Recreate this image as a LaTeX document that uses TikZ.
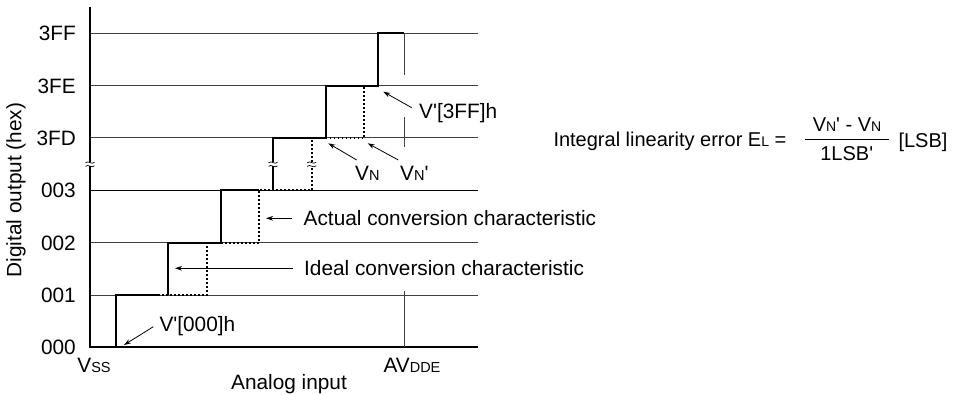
\documentclass[tikz,border=0pt]{standalone}
\usepackage{fontspec}
\setmainfont{Liberation Sans}
\usetikzlibrary{arrows.meta}
\newcommand\smc[1]{{\fontsize{14.5}{15}\selectfont #1}}
\newcommand\qq{\textquotesingle}
\tikzset{
  gridline/.style={line width=0.8pt, black!75},
  axisline/.style={line width=1.1pt, black},
  ideal/.style={line width=2pt, black},
  actual/.style={line width=1.9pt, black, dash pattern=on 1.9pt off 2.1pt},
  ptr/.style={line width=0.8pt, black, -{Stealth[length=7pt,width=4.6pt]}},
  lbl/.style={inner sep=0pt, anchor=base west},
  tick/.style={inner sep=0pt, anchor=base east},
  ctr/.style={inner sep=0pt, anchor=base},
  formfont/.style={font=\fontsize{20}{24}\selectfont},
  brk/.pic={
    \fill[white] (-5,-2.3) rectangle (5,2.3);
    \draw[line width=0.7pt] (-4.5,-1.2) .. controls (-1.5,-4.2) and (1.5,1.4) .. (4.5,-1.8);
    \draw[line width=0.7pt] (-4.5,2.4) .. controls (-1.5,-0.6) and (1.5,5.0) .. (4.5,1.8);
  }
}
\begin{document}
\begin{tikzpicture}[x=1pt,y=-1pt,font=\fontsize{20.8}{24}\selectfont]
\useasboundingbox (0,0) rectangle (955,394);
% grid lines
\foreach \yy in {33,85.7,137.7,242.7,295}{
  \draw[gridline] (90,\yy) -- (478,\yy);
}
\draw[line width=0.9pt] (90,190.3) -- (478,190.3);
% axes
\coordinate (ytop) at (90,7);
\coordinate (orig) at (90,347);
\coordinate (xend) at (478,347);
\draw[axisline] (ytop) -- (orig) -- (xend);
% AVDDE marker line and 3FF end line
\draw[gridline] (404,291) -- (404,347);
\draw[gridline] (404,33) -- (404,75);
\draw[gridline] (404,117.3) -- (404,146.7);
% ideal (solid) staircase
\draw[ideal] (116,347) -- (116,295) -- (158,295);
\draw[ideal] (168.3,295) -- (168.3,242.7) -- (220.7,242.7) -- (220.7,190.3) -- (259.3,190.3);
\draw[ideal] (273,190.3) -- (273,137.7) -- (325.5,137.7) -- (325.5,85.7) -- (378,85.7) -- (378,33) -- (404,33);
% actual (dotted) staircase
\draw[actual] (158,295) -- (206.7,295) -- (206.7,242.7);
\draw[actual] (220.7,242.7) -- (259.3,242.7) -- (259.3,190.3) -- (311.7,190.3) -- (311.7,137.7);
\draw[actual] (325.5,137.7) -- (364.3,137.7) -- (364.3,85.7);
% break marks
\pic at (90,164) {brk};
\pic at (273,164) {brk};
\pic at (311.7,164) {brk};
% tick labels
\node[tick] (t3FF) at (76,40.5) {3FF};
\node[tick] (t3FE) at (76,93) {3FE};
\node[tick] (t3FD) at (76,145) {3FD};
\node[tick] (t003) at (76,197.6) {003};
\node[tick] (t002) at (76,250) {002};
\node[tick] (t001) at (76,302.3) {001};
\node[tick] (t000) at (76,354.3) {000};
% axis labels
\node[rotate=90, inner sep=0pt] (ylab) at (16,190) {Digital output (hex)};
\node[ctr] (vss) at (94,372) {V\smc{SS}};
\node[ctr] (avdde) at (412,372) {AV\smc{DDE}};
\node[ctr] (xlab) at (289,389) {Analog input};
% annotations
\node[lbl] (l3ff) at (419,118.5) {V\qq[3FF]h};
\coordinate (h3ff) at (383.3,91.7);
\coordinate (t3ffa) at (411.7,107.7);
\draw[ptr] (t3ffa) -- (h3ff);
\node[lbl] (lvn) at (355,180) {V\smc{N}};
\coordinate (hvn) at (328.3,143.3);
\coordinate (tvn) at (356.7,160);
\draw[ptr] (tvn) -- (hvn);
\node[lbl] (lvnp) at (400,180) {V\smc{N}\qq};
\coordinate (hvnp) at (367.7,143.3);
\coordinate (tvnp) at (398.3,160);
\draw[ptr] (tvnp) -- (hvnp);
\node[lbl] (lact) at (303.5,225.3) {Actual conversion characteristic};
\coordinate (hact) at (266,218.3);
\coordinate (tact) at (292,218.3);
\draw[ptr] (tact) -- (hact);
\node[lbl] (lid) at (304,275.3) {Ideal conversion characteristic};
\coordinate (hid) at (175,268.3);
\coordinate (tid) at (293.3,268.3);
\draw[ptr] (tid) -- (hid);
\node[lbl] (l000) at (159.3,331) {V\qq[000]h};
\coordinate (h000) at (124,345);
\coordinate (t000a) at (153.3,326.7);
\draw[ptr] (t000a) -- (h000);
% formula
\node[lbl, formfont] (form) at (553.3,146.7) {Integral linearity error E{\fontsize{14}{15}\selectfont L} =};
\node[ctr, formfont] (num) at (847,131.7) {V{\fontsize{14}{15}\selectfont N}\qq{} - V{\fontsize{14}{15}\selectfont N}};
\node[ctr, formfont] (den) at (846.7,160) {1LSB\qq};
\coordinate (fl) at (805,139.3);
\coordinate (fr) at (889,139.3);
\draw[line width=0.9pt] (fl) -- (fr);
\node[lbl, formfont] (unit) at (898.3,147) {[LSB]};
\end{tikzpicture}
\end{document}
